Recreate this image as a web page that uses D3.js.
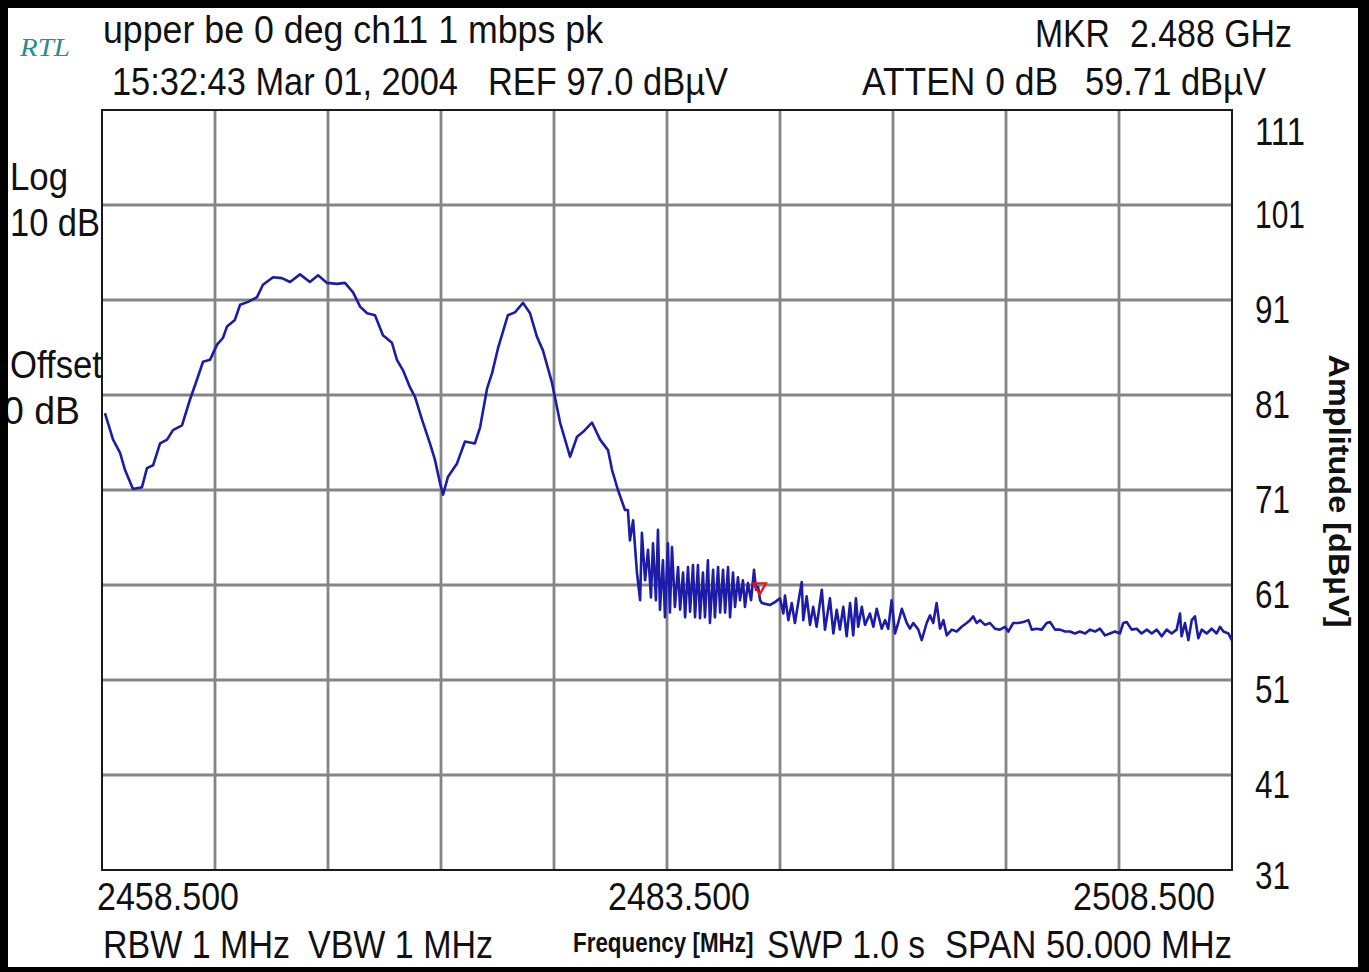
<!DOCTYPE html>
<html>
<head>
<meta charset="utf-8">
<script src="https://cdn.jsdelivr.net/npm/d3@7"></script>
<style>
body { margin: 0; background: #fff; }
svg { display: block; }
text { font-family: "Liberation Sans", Arial, sans-serif; fill: #111; }
</style>
</head>
<body>
<div id="chart"></div>
<script>

// spectrum analyser screen, 5 MHz / div, 10 dB / div
let freq_ticks = [2458.5, 2463.5, 2468.5, 2473.5, 2478.5, 2483.5, 2488.5, 2493.5, 2498.5, 2503.5, 2508.5]
let level_ticks = [31, 41, 51, 61, 71, 81, 91, 101, 111]
let freq_labels = [2458.5, 2483.5, 2508.5]
let marker_point = [2487.6, 60.8]

// trace [MHz, dBuV]
let lobe_main = [[2458.63,79.1],[2458.99,76.3],[2459.30,74.9],[2459.52,73.1],[2459.87,71.1],[2460.27,71.3],[2460.49,73.3],[2460.76,73.6],[2461.07,75.9],[2461.38,76.3],[2461.64,77.3],[2462.04,77.8],[2462.39,80.5],[2462.70,82.6],[2462.97,84.5],[2463.28,84.7],[2463.59,86.3],[2463.85,87.0],[2464.03,88.2],[2464.38,88.9],[2464.61,90.5],[2464.96,90.8],[2465.36,91.3],[2465.62,92.6],[2466.07,93.4],[2466.46,93.3],[2466.82,92.9],[2467.26,93.7],[2467.70,92.9],[2468.06,93.6],[2468.46,92.8],[2468.90,92.7],[2469.25,92.8],[2469.61,91.8],[2469.92,90.3],[2470.23,89.6],[2470.58,89.4],[2470.93,87.3],[2471.33,86.5],[2471.55,84.7],[2471.82,83.6],[2472.13,81.8],[2472.35,80.8],[2472.66,78.4],[2473.01,75.9],[2473.23,74.2],[2473.46,71.7],[2473.59,70.5]]

let lobe_side = [[2473.81,72.4],[2474.21,73.8],[2474.56,76.1],[2475.00,75.9],[2475.23,77.6],[2475.54,81.7],[2475.76,83.3],[2476.02,85.9],[2476.46,89.4],[2476.77,89.7],[2477.13,90.7],[2477.44,89.6],[2477.75,87.1],[2478.01,85.7],[2478.41,82.3],[2478.77,78.1],[2479.21,74.5],[2479.52,76.6],[2479.78,77.1],[2480.18,78.1],[2480.54,76.3],[2480.89,75.2],[2481.07,73.1],[2481.33,71.0],[2481.64,68.9]]

let band_edge = [[2481.77,68.9],[2481.86,65.7],[2482.00,67.8],[2482.17,62.3],[2482.31,59.4],[2482.39,66.5],[2482.53,61.5],[2482.66,64.7],[2482.79,59.7],[2482.88,65.4],[2483.01,59.4],[2483.10,66.8],[2483.19,58.4],[2483.32,63.6],[2483.41,57.6],[2483.54,65.4],[2483.63,58.1],[2483.72,65.0],[2483.85,58.7],[2483.99,62.9],[2484.08,58.4],[2484.21,62.3],[2484.30,57.6],[2484.43,62.9],[2484.52,58.2],[2484.65,63.1],[2484.74,57.6],[2484.87,63.1],[2484.96,57.5],[2485.09,62.3],[2485.18,57.6],[2485.31,63.6],[2485.40,57.0],[2485.54,62.6],[2485.62,57.6],[2485.76,62.9],[2485.85,58.1],[2485.98,62.6],[2486.07,58.1],[2486.20,62.9],[2486.29,57.6],[2486.42,62.3],[2486.51,58.7],[2486.64,61.8],[2486.73,59.4],[2486.86,61.5],[2486.95,58.7],[2487.08,61.2],[2487.22,59.4],[2487.35,62.6],[2487.44,60.5],[2487.53,60.8],[2487.62,59.4],[2487.70,59.1]]

let noise_floor = [[2488.06,58.9],[2488.28,59.2],[2488.50,59.6],[2488.65,58.0],[2488.72,59.9],[2488.87,57.3],[2489.02,59.1],[2489.16,57.0],[2489.31,59.2],[2489.46,61.3],[2489.53,57.3],[2489.68,59.8],[2489.83,56.8],[2489.97,58.7],[2490.12,56.6],[2490.35,60.5],[2490.49,56.3],[2490.71,59.6],[2490.86,55.9],[2491.01,58.4],[2491.15,56.3],[2491.30,58.7],[2491.45,55.6],[2491.60,59.1],[2491.74,55.7],[2491.86,59.6],[2491.96,56.6],[2492.12,58.7],[2492.26,56.8],[2492.48,58.0],[2492.63,56.6],[2492.78,58.5],[2493.00,56.4],[2493.15,57.3],[2493.29,56.4],[2493.44,59.4],[2493.59,55.9],[2493.73,57.0],[2493.89,58.5],[2494.11,57.0],[2494.25,56.4],[2494.40,57.0],[2494.62,56.3],[2494.77,55.2],[2494.99,57.0],[2495.14,57.8],[2495.28,57.0],[2495.43,59.1],[2495.58,56.4],[2495.73,57.3],[2495.88,55.7],[2496.10,56.3],[2496.32,56.1],[2496.54,56.6],[2496.76,57.0],[2496.91,57.3],[2497.05,57.7],[2497.20,57.0],[2497.35,57.3],[2497.57,56.8],[2497.79,57.0],[2498.01,56.4],[2498.23,56.3],[2498.46,56.6],[2498.60,56.1],[2498.82,57.0],[2499.04,57.0],[2499.27,57.1],[2499.49,57.3],[2499.64,56.3],[2499.86,56.4],[2500.08,56.3],[2500.30,57.0],[2500.45,57.1],[2500.67,56.3],[2500.89,56.3],[2501.11,56.1],[2501.33,56.1],[2501.55,55.9],[2501.77,56.1],[2502.00,55.9],[2502.22,56.3],[2502.44,56.1],[2502.66,56.4],[2502.88,55.7],[2503.10,55.9],[2503.32,56.1],[2503.54,55.9],[2503.69,57.0],[2503.84,57.1],[2504.06,56.3],[2504.28,56.4],[2504.50,55.9],[2504.73,56.3],[2504.95,55.9],[2505.17,56.3],[2505.39,55.6],[2505.61,56.3],[2505.83,55.9],[2506.05,56.3],[2506.20,58.0],[2506.27,55.6],[2506.42,57.0],[2506.57,55.2],[2506.72,57.3],[2506.86,57.7],[2507.01,55.4],[2507.16,56.3],[2507.38,55.9],[2507.60,56.4],[2507.82,55.9],[2507.97,56.6],[2508.12,56.1],[2508.34,55.9],[2508.49,55.2]]


let W = 1369, H = 972

let svg = d3.select('#chart')
.append('svg')
.attr('width', W)
.attr('height', H)

svg.append('rect')
.attr('width', W)
.attr('height', H)
.attr('fill', 'white')

let x = d3.scaleLinear()
.domain([2458.5, 2508.5])
.range([102, 1232])

let y = d3.scaleLinear()
.domain([31, 111])
.range([870, 110])


// grid
svg.append('g')
.selectAll('line')
.data(freq_ticks.slice(1, -1))
.join('line')
.attr('x1', d => x(d))
.attr('x2', d => x(d))
.attr('y1', y(111))
.attr('y2', y(31))
.attr('stroke', '#858585')
.attr('stroke-width', 2.8)

svg.append('g')
.selectAll('line')
.data(level_ticks.slice(1, -1))
.join('line')
.attr('x1', x(2458.5))
.attr('x2', x(2508.5))
.attr('y1', d => y(d))
.attr('y2', d => y(d))
.attr('stroke', '#858585')
.attr('stroke-width', 2.8)

svg.append('rect')
.attr('x', x(2458.5))
.attr('y', y(111))
.attr('width', x(2508.5) - x(2458.5))
.attr('height', y(31) - y(111))
.attr('fill', 'none')
.attr('stroke', '#1a1a1a')
.attr('stroke-width', 2)


// trace
let trace = [].concat(lobe_main, lobe_side, band_edge, noise_floor)

let line = d3.line()
.x(d => x(d[0]))
.y(d => y(d[1]))

svg.append('path')
.datum(trace)
.attr('d', line)
.attr('fill', 'none')
.attr('stroke', '#1c1ca6')
.attr('stroke-width', 2.6)
.attr('stroke-linejoin', 'round')

svg.append('path')
.attr('d', d3.symbol(d3.symbolTriangle, 70)())
.attr('transform', 'translate(' + x(marker_point[0]) + ',' + y(marker_point[1]) + ') rotate(180)')
.attr('fill', 'none')
.attr('stroke', '#ee1111')
.attr('stroke-width', 2.2)


// texts
function label(txt, px, py, size, w, anchor){
  return svg.append('text')
  .attr('x', px)
  .attr('y', py)
  .attr('font-size', size)
  .attr('text-anchor', anchor || 'start')
  .attr('textLength', w)
  .attr('lengthAdjust', 'spacingAndGlyphs')
  .text(txt)
}

label('RTL', 20, 56, 26, 50)
.style('font-family', '"Liberation Serif", serif')
.style('font-style', 'italic')
.style('fill', '#2a8c8e')

label('upper be 0 deg ch11 1 mbps pk', 103, 43, 38, 500)
label('15:32:43 Mar 01, 2004', 112, 95, 38, 346)
label('REF 97.0 dBµV', 488, 95, 38, 240)
label('MKR', 1035, 47, 38, 75)
label('2.488 GHz', 1130, 47, 38, 162)
label('ATTEN 0 dB', 862, 95, 38, 196)
label('59.71 dBµV', 1085, 95, 38, 181)

label('Log', 10, 190, 38, 58)
label('10 dB', 10, 236, 38, 90)
label('Offset', 10, 378, 38, 92)
label('0 dB', 3, 424, 38, 77)

// level labels on the right
svg.append('g')
.selectAll('text')
.data(level_ticks)
.join('text')
.attr('x', 1255)
.attr('y', d => Math.min(Math.max(y(d) + 23, 145), 889))
.attr('font-size', 38)
.attr('textLength', d => d >= 100 ? 50 : 35)
.attr('lengthAdjust', 'spacingAndGlyphs')
.text(d => d)

svg.append('text')
.attr('transform', 'translate(1329,491) rotate(90)')
.attr('text-anchor', 'middle')
.attr('font-size', 30)
.attr('font-weight', 'bold')
.attr('textLength', 273)
.attr('lengthAdjust', 'spacingAndGlyphs')
.text('Amplitude [dBµV]')

// frequency labels
let label_anchor = ['start', 'middle', 'end']
let label_shift = [-5, 12, -17]

svg.append('g')
.selectAll('text')
.data(freq_labels)
.join('text')
.attr('x', (d, i) => x(d) + label_shift[i])
.attr('y', 910)
.attr('font-size', 38)
.attr('text-anchor', (d, i) => label_anchor[i])
.attr('textLength', 142)
.attr('lengthAdjust', 'spacingAndGlyphs')
.text(d => d.toFixed(3))

label('RBW 1 MHz', 103, 958, 38, 187)
label('VBW 1 MHz', 308, 958, 38, 185)

// axis title squeezed with a transform so it stays clear of the SWP text
svg.append('text')
.attr('transform', 'translate(573,952) scale(0.8,1)')
.attr('font-size', 28)
.attr('font-weight', 'bold')
.text('Frequency [MHz]')

label('SWP 1.0 s', 767, 958, 38, 158)
label('SPAN 50.000 MHz', 945, 958, 38, 287)


// black screen border
svg.append('rect')
.attr('x', 0)
.attr('y', 0)
.attr('width', 1366)
.attr('height', 975)
.attr('fill', 'none')
.attr('stroke', 'black')
.attr('stroke-width', 16)

</script>
</body>
</html>
